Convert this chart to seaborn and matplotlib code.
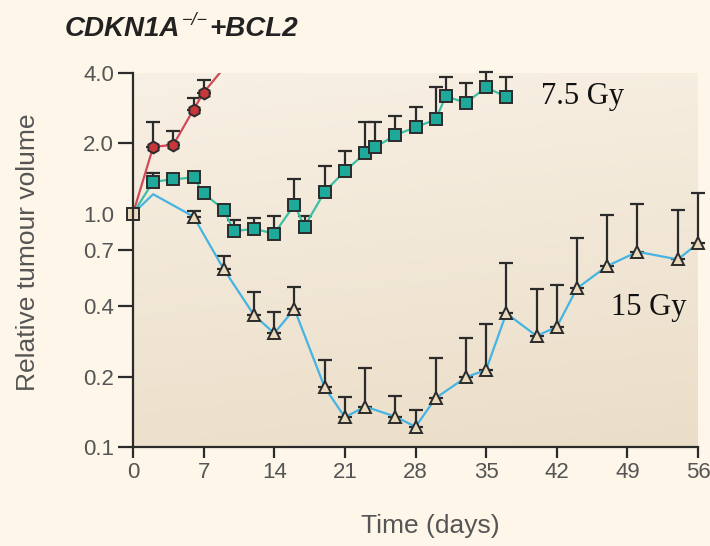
import numpy as np
import pandas as pd
import matplotlib
matplotlib.use("Agg")
import matplotlib.pyplot as plt
import seaborn as sns

# untreated control (red), day 9 point runs off the top of the axis
ctrl_days = [0, 2, 4, 6, 7, 9]
ctrl_vol = [1.0, 1.93, 1.97, 2.79, 3.30, 4.2]
ctrl_top = [np.nan, 2.47, 2.25, 3.14, 3.75, np.nan]

# 7.5 Gy (teal squares)
gy75_days = [0, 2, 4, 6, 7, 9, 10, 12, 14, 16, 17, 19, 21, 23, 24, 26, 28, 30, 31, 33, 35, 37]
gy75_vol = [1.0, 1.37, 1.40, 1.43, 1.22, 1.04, 0.84, 0.86, 0.82, 1.09, 0.88, 1.24,
            1.52, 1.81, 1.92, 2.17, 2.34, 2.53, 3.18, 2.98, 3.47, 3.16]
gy75_top = [np.nan, 1.49, np.nan, np.nan, np.nan, np.nan, 0.94, 0.96, 0.98, 1.40, 0.98, 1.60,
            1.85, 2.47, 2.47, 2.62, 2.85, 3.47, 3.83, 3.61, 4.05, 3.83]

# 15 Gy (blue line, triangles)
gy15_days = [0, 2, 6, 9, 12, 14, 16, 19, 21, 23, 26, 28, 30, 33, 35, 37, 40, 42, 44, 47, 50, 54, 56]
gy15_vol = [1.0, 1.21, 0.97, 0.577, 0.367, 0.307, 0.390, 0.180, 0.134, 0.149, 0.135, 0.122,
            0.162, 0.199, 0.214, 0.374, 0.299, 0.327, 0.478, 0.596, 0.686, 0.636, 0.745]
gy15_top = [np.nan, np.nan, 1.03, 0.657, 0.462, 0.380, 0.483, 0.236, 0.163, 0.219, 0.165, 0.144,
            0.241, 0.294, 0.336, 0.612, 0.473, 0.493, 0.787, 0.982, 1.10, 1.04, 1.22]

y_ticks = [0.1, 0.2, 0.4, 0.7, 1.0, 2.0, 4.0]
y_labels = ["0.1", "0.2", "0.4", "0.7", "1.0", "2.0", "4.0"]
x_ticks = [0, 7, 14, 21, 28, 35, 42, 49, 56]

BG = "#FDF6E9"
INK = "#2b2b2b"
GREY = "#555555"

sns.set_theme(style="ticks")
plt.rcParams["font.family"] = ["Liberation Sans", "DejaVu Sans"]

fig = plt.figure(figsize=(7.1, 5.46), dpi=100, facecolor=BG)
ax = fig.add_axes([133 / 710, 1 - 447 / 546, 565 / 710, 374 / 546])
ax.set_facecolor(BG)

# beige gradient behind the data
grad = np.linspace(0, 1, 256).reshape(-1, 1) * 0.85 + np.linspace(0, 0.15, 256).reshape(1, -1)
cmap = matplotlib.colors.LinearSegmentedColormap.from_list("bg", ["#F8F0E4", "#EBDEC8"])
ax.imshow(grad, extent=[0, 1, 0, 1], transform=ax.transAxes, aspect="auto",
          cmap=cmap, origin="upper", zorder=0)


def draw_series(days, vol, top, line_color, marker, face, size, marks, clip):
    df = pd.DataFrame({"day": days, "vol": vol, "top": top})
    err = df.dropna(subset=["top"])
    ax.errorbar(err["day"], err["vol"], yerr=[np.zeros(len(err)), err["top"] - err["vol"]],
                fmt="none", ecolor=INK, elinewidth=1.6, capsize=5, capthick=1.6,
                clip_on=False, zorder=2)
    sns.lineplot(data=df, x="day", y="vol", ax=ax, color=line_color, lw=1.6,
                 marker=marker, markersize=size, markerfacecolor=face,
                 markeredgecolor=INK, markeredgewidth=1.4,
                 markevery=marks, zorder=3, clip_on=clip)


draw_series(ctrl_days, ctrl_vol, ctrl_top, "#D04A5A", "h", "#C8383A", 8.5,
            list(range(1, len(ctrl_days) - 1)), True)
draw_series(gy75_days, gy75_vol, gy75_top, "#3CBFA6", "s", "#1FA99A", 8.5,
            list(range(1, len(gy75_days))), False)
draw_series(gy15_days, gy15_vol, gy15_top, "#45B4E2", "^", "#E9D9BD", 9,
            list(range(2, len(gy15_days))), False)

# shared starting point
ax.plot(gy75_days[0], gy75_vol[0], marker="s", ms=8.5, mfc="#E9D9BD", mec=INK, mew=1.4,
        zorder=5, clip_on=False)

ax.set_yscale("log")
ax.set_xlim(0, 56)
ax.set_ylim(0.1, 4.0)
ax.set_xticks(x_ticks)
ax.set_xticklabels([str(t) for t in x_ticks])
ax.set_yticks(y_ticks)
ax.set_yticklabels(y_labels)
ax.yaxis.set_minor_locator(matplotlib.ticker.NullLocator())
ax.yaxis.get_major_ticks()[4].tick1line.set_visible(False)

for s in ["top", "right"]:
    ax.spines[s].set_visible(False)
for s in ["left", "bottom"]:
    ax.spines[s].set_color(INK)
    ax.spines[s].set_linewidth(1.6)
    ax.spines[s].set_zorder(6)
ax.tick_params(axis="x", length=8, width=1.6, color=INK, pad=3, labelsize=16, labelcolor=GREY)
ax.tick_params(axis="y", length=10.5, width=1.6, color=INK, pad=3, labelsize=16, labelcolor=GREY)

ax.set_xlabel("Time (days)", fontsize=19, color=GREY)
ax.set_ylabel("Relative tumour volume", fontsize=19, color=GREY)
ax.xaxis.set_label_coords(0.527, -0.18)
ax.yaxis.set_label_coords(-0.165, 0.52)

ax.text(40.4, 2.94, "7.5 Gy", family="Liberation Serif", fontsize=22, color="#111111",
        va="baseline", ha="left")
ax.text(47.4, 0.367, "15 Gy", family="Liberation Serif", fontsize=22, color="#111111",
        va="baseline", ha="left")

# title with superscript
renderer = fig.canvas.get_renderer()
t1 = fig.text(65 / 710, 1 - 36 / 546, "CDKN1A", fontsize=20, fontweight="bold",
              fontstyle="italic", color="#222222", va="baseline")
bb = t1.get_window_extent(renderer)
t2 = fig.text(bb.x1 / 710 + 0.002, 1 - 25 / 546, "\u2212/\u2212", fontsize=13,
              fontstyle="italic", color="#222222", va="baseline")
bb2 = t2.get_window_extent(renderer)
fig.text(bb2.x1 / 710 + 0.002, 1 - 36 / 546, "+BCL2", fontsize=20, fontweight="bold",
         fontstyle="italic", color="#222222", va="baseline")

fig.savefig("out.png", dpi=100, facecolor=BG)
